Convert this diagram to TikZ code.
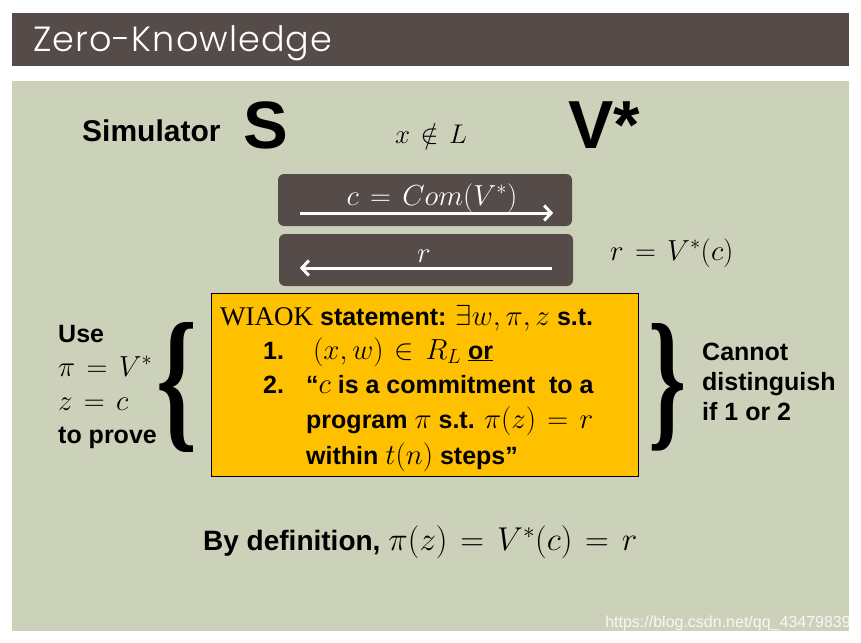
\RequirePackage{fix-cm}
\documentclass[tikz,border=0pt]{standalone}
\usepackage{fontspec}
\setmainfont{Liberation Sans}
\newfontfamily\serifw{Liberation Serif}
\newfontfamily\titlefont{Poppins Light}[LetterSpace=3]
\usetikzlibrary{arrows.meta}
\definecolor{barc}{HTML}{554B49}
\definecolor{panel}{HTML}{CCD1BA}
\definecolor{yel}{HTML}{FFC000}
\thickmuskip=7mu plus 5mu
\newcommand{\fs}[1]{\fontsize{#1}{#1}\selectfont}
\newcommand{\M}[1]{{\fontsize{29}{29}\selectfont$#1$}}
\newcommand{\MB}[1]{{\fontsize{33}{33}\selectfont$#1$}}
\begin{document}
\begin{tikzpicture}[x=1pt,y=-1pt,
  txt/.style={anchor=base west, inner sep=0pt, font=\fs{25}\bfseries},
  mtxt/.style={anchor=base west, inner sep=0pt, font=\fs{29}},
  msg/.style={fill=barc, rounded corners=6pt, minimum width=294pt, minimum height=52pt, inner sep=0pt},
  warrow/.style={draw=white, line width=3pt, -{Straight Barb[length=7pt,width=15pt]}},
  brace/.style={inner sep=0pt, font=\serifw\bfseries}]
\useasboundingbox (0,0) rectangle (861,642);
\fill[white] (0,0) rectangle (861,642);
\fill[barc] (12,13) rectangle (849,66);
\node[anchor=base west, inner sep=0pt, text=white, font=\titlefont\fs{35}] (title) at (33,52) {Zero-Knowledge};
\fill[panel] (12,81) rectangle (849,631);

\node[anchor=base west, inner sep=0pt, font=\fs{30}\bfseries] (sim) at (82,141) {Simulator};
\node[anchor=base west, inner sep=0pt, font=\fs{67}\bfseries] (S) at (243,148) {S};
\node[anchor=base west, inner sep=0pt, font=\fs{68}\bfseries] (V) at (568,148) {V*};
\node[anchor=base west, inner sep=0pt, font=\fs{27}] (xnl) at (395,143) {$x\notin L$};

\node[msg] (m1) at (425,200) {};
\node[anchor=base, inner sep=0pt, text=white, font=\fs{29}] (m1t) at (432,205) {$c=Com(V^*)$};
\coordinate (a1s) at ([shift={(22,13)}]m1.west);
\coordinate (a1e) at ([shift={(-19,13)}]m1.east);
\draw[warrow] (a1s) -- (a1e);

\node[msg] (m2) at (426,260) {};
\node[anchor=base, inner sep=0pt, text=white, font=\fs{29}] (m2t) at (424,262) {$r$};
\coordinate (a2s) at ([shift={(-21,8)}]m2.east);
\coordinate (a2e) at ([shift={(21,8)}]m2.west);
\draw[warrow] (a2s) -- (a2e);

\node[mtxt] (rv) at (610,260) {$r=V^*(c)$};

\node[draw=black, line width=0.8pt, fill=yel, minimum width=427pt, minimum height=183pt, inner sep=0pt] (stmt) at (424.5,384.5) {};
\node[txt] (l1) at (220,325) {{\serifw\mdseries\fs{27}WIAOK} statement: \M{\exists w,\pi,z} s.t.};
\node[txt] (n1) at (263,359) {1.};
\node[txt] (l2) at (313,359) {\M{(x,w)\in R_L} \underline{or}};
\node[txt] (n2) at (263,393) {2.};
\node[txt] (l3) at (306,393) {“\M{c} is a commitment\ \ to a};
\node[txt] (l4) at (306,428) {program \M{\pi} s.t. \M{\pi(z)=r}};
\node[txt] (l5) at (306,464) {within \M{t(n)} steps”};

\node[txt] (u1) at (58,342) {Use};
\node[txt] (u2) at (58,376) {\M{\pi=V^*}};
\node[txt] (u3) at (58,410) {\M{z=c}};
\node[txt] (u4) at (58,443) {to prove};
\node[brace] (lb) at (177,387) {\resizebox{41pt}{109pt}{\{}};

\node[brace] (rb) at (668,387) {\resizebox{38pt}{107pt}{\}}};
\node[txt] (c1) at (702,360) {Cannot};
\node[txt] (c2) at (702,390) {distinguish};
\node[txt] (c3) at (702,420) {if 1 or 2};

\node[anchor=base west, inner sep=0pt, font=\fs{28}\bfseries] (bydef) at (203,550) {By definition, \MB{\pi(z)=V^*(c)=r}};

\node[anchor=base east, inner sep=0pt, text=white, opacity=0.85, font=\fs{16}] (wm) at (851,627) {https://blog.csdn.net/qq\_43479839};
\end{tikzpicture}
\end{document}
